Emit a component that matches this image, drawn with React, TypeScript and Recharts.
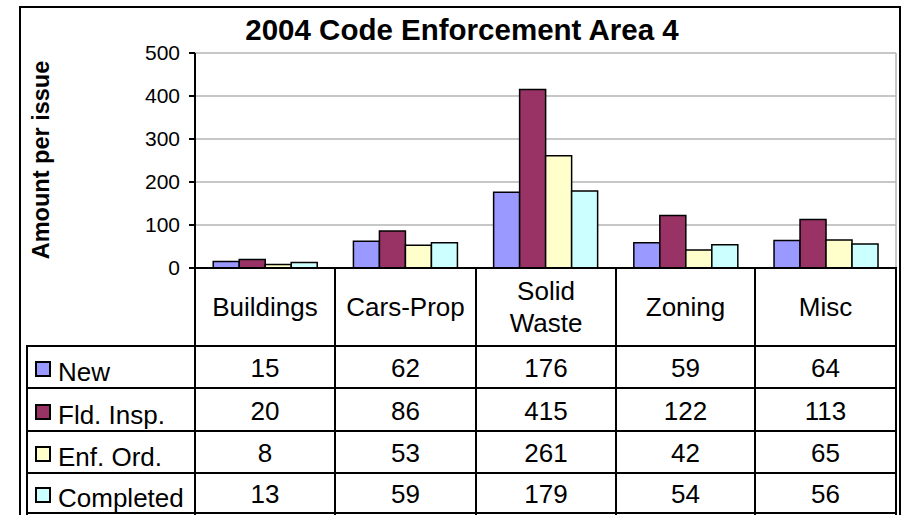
import React from "react"
import { BarChart, Bar, XAxis, YAxis, CartesianGrid } from "recharts"

const categories = ["Buildings", "Cars-Prop", "Solid Waste", "Zoning", "Misc"]
const seriesNames = ["New", "Fld. Insp.", "Enf. Ord.", "Completed"]
const seriesColors = ["#9999FF", "#993366", "#FFFFCC", "#CCFFFF"]
const newValues = [15, 62, 176, 59, 64]
const fldInspValues = [20, 86, 415, 122, 113]
const enfOrdValues = [8, 53, 261, 42, 65]
const completedValues = [13, 59, 179, 54, 56]
const yTicks = [0, 100, 200, 300, 400, 500]

const seriesValues = [newValues, fldInspValues, enfOrdValues, completedValues]
const keys = ["s0", "s1", "s2", "s3"]

const data = categories.map((c, i) => {
    const row: Record<string, string | number> = { category: c }
    seriesValues.forEach((vals, s) => { row[keys[s]] = vals[i] })
    return row
})

const font = "Arial, 'Liberation Sans', sans-serif"

// table grid (page pixels)
const colX = [27, 195, 335, 476, 616, 755, 896]
const rowY = [268, 346, 388, 431, 473, 513]

const hLine = (x1: number, x2: number, y: number, key: string) => (
    <div key={key} style={{ position: "absolute", left: x1 - 1, top: y - 1, width: x2 - x1 + 2, height: 2, background: "#000" }} />
)
const vLine = (x: number, y1: number, y2: number, key: string) => (
    <div key={key} style={{ position: "absolute", left: x - 1, top: y1 - 1, width: 2, height: y2 - y1 + 2, background: "#000" }} />
)
const box = (x1: number, x2: number, y1: number, y2: number, content: React.ReactNode, key: string, align: "center" | "flex-start" = "center") => (
    <div key={key} style={{ position: "absolute", left: x1, top: y1, width: x2 - x1, height: y2 - y1, display: "flex", alignItems: "center", justifyContent: align, textAlign: "center", fontSize: 26, lineHeight: "32px", whiteSpace: "nowrap" }}>
        {content}
    </div>
)

function DataTable() {
    const els: React.ReactNode[] = []
    els.push(hLine(colX[1], colX[6], rowY[0], "h0"))
    for (let r = 1; r < rowY.length; r++) els.push(hLine(colX[0], colX[6], rowY[r], "h" + r))
    els.push(vLine(colX[0], rowY[1], rowY[5] + 4, "v0"))
    for (let c = 1; c < colX.length; c++) els.push(vLine(colX[c], rowY[0], rowY[5] + 4, "v" + c))
    categories.forEach((c, i) => {
        els.push(box(colX[i + 1], colX[i + 2], rowY[0], rowY[1], c === "Solid Waste" ? <span>Solid<br />Waste</span> : c, "c" + i))
    })
    seriesNames.forEach((name, s) => {
        els.push(box(colX[0] + 8, colX[1], rowY[s + 1] + 2, rowY[s + 2] + 2, (
            <>
                <span style={{ display: "inline-block", width: 12, height: 12, border: "2px solid #000", background: seriesColors[s], marginRight: 7 }} />
                <span style={{ position: "relative", top: 3 }}>{name}</span>
            </>
        ), "l" + s, "flex-start"))
        seriesValues[s].forEach((v, i) => {
            els.push(box(colX[i + 1], colX[i + 2], rowY[s + 1] + 1, rowY[s + 2] + 1, v, "d" + s + "-" + i))
        })
    })
    return <>{els}</>
}

export default function App() {
    return (
        <div style={{ position: "absolute", left: 0, top: 0, width: 902, height: 515, overflow: "hidden", background: "#fff", fontFamily: font }}>
            <div style={{ position: "absolute", left: 19, top: 6, width: 882, height: 520, border: "2px solid #000", boxSizing: "border-box" }} />
            <div style={{ position: "absolute", left: 0, width: 924, top: 14, textAlign: "center", fontWeight: "bold", fontSize: 29.5, lineHeight: "32px" }}>
                2004 Code Enforcement Area 4
            </div>
            <div style={{ position: "absolute", left: 41, top: 160, width: 0, height: 0 }}>
                <div style={{ position: "absolute", transform: "translate(-50%, -50%) rotate(-90deg)", whiteSpace: "nowrap", fontWeight: "bold", fontSize: 23.5 }}>
                    Amount per issue
                </div>
            </div>
            <div style={{ position: "absolute", left: 0, top: 0 }}>
                <BarChart
                    width={902}
                    height={280}
                    data={data}
                    margin={{ top: 53, right: 6, left: 135, bottom: 12 }}
                    barCategoryGap="13%"
                    barGap={0}
                >
                    <CartesianGrid
                        stroke="#b4b4b4"
                        strokeWidth={1.5}
                        verticalCoordinatesGenerator={({ offset }: any) => [offset.left + offset.width]}
                    />
                    <XAxis dataKey="category" tick={false} tickLine={false} height={0} axisLine={{ stroke: "#000", strokeWidth: 2 }} />
                    <YAxis
                        width={60}
                        domain={[0, 500]}
                        ticks={yTicks}
                        interval={0}
                        tickSize={6}
                        tickMargin={9}
                        tick={{ fill: "#000", fontSize: 21, fontFamily: font }}
                        tickLine={{ stroke: "#000", strokeWidth: 2 }}
                        axisLine={{ stroke: "#000", strokeWidth: 2 }}
                    />
                    {keys.map((k, s) => (
                        <Bar key={k} dataKey={k} name={seriesNames[s]} fill={seriesColors[s]} stroke="#000" strokeWidth={1.5} isAnimationActive={false} />
                    ))}
                </BarChart>
            </div>
            <DataTable />
        </div>
    )
}
